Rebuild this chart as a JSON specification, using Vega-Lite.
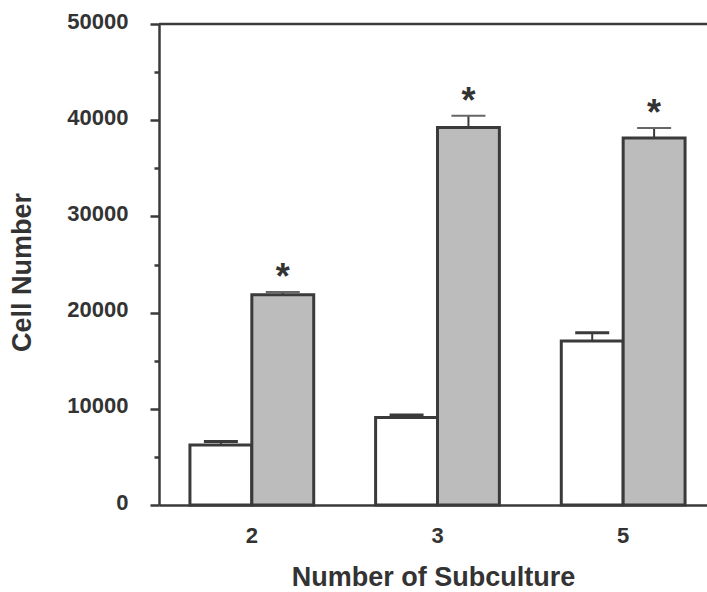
{
  "$schema": "https://vega.github.io/schema/vega-lite/v6.json",
  "autosize": "none",
  "padding": {"left": 159, "top": 24, "right": 0, "bottom": 87},
  "width": 548,
  "height": 481,
  "background": "white",
  "config": {
    "view": {"stroke": null},
    "font": "Liberation Sans",
    "axis": {
      "domainColor": "#3a3a3a",
      "domainWidth": 2.5,
      "tickColor": "#3a3a3a",
      "tickWidth": 2.5,
      "labelColor": "#333333",
      "titleColor": "#333333",
      "labelFont": "Liberation Sans",
      "titleFont": "Liberation Sans",
      "grid": false
    }
  },
  "data": {
    "values": [
      {"subculture": "2", "group": "control", "mean": 6250, "upper": 6600},
      {"subculture": "2", "group": "treated", "mean": 21850, "upper": 22150},
      {"subculture": "3", "group": "control", "mean": 9100, "upper": 9350},
      {"subculture": "3", "group": "treated", "mean": 39250, "upper": 40450},
      {"subculture": "5", "group": "control", "mean": 17050, "upper": 17900},
      {"subculture": "5", "group": "treated", "mean": 38150, "upper": 39200}
    ]
  },
  "resolve": {"axis": {"y": "independent"}},
  "layer": [
    {
      "mark": {"type": "bar", "stroke": "#3a3a3a", "strokeWidth": 3},
      "encoding": {
        "x": {
          "field": "subculture",
          "type": "nominal",
          "scale": {"range": [0, 557], "paddingInner": 0, "paddingOuter": 0},
          "axis": {
            "title": "Number of Subculture",
            "labelAngle": 0,
            "ticks": false,
            "labelFontSize": 22,
            "labelFontWeight": "bold",
            "labelBaseline": "alphabetic",
            "labelPadding": 37,
            "titleFontSize": 27,
            "titleFontWeight": "bold",
            "titleX": 274,
            "titleY": 80,
            "titleBaseline": "alphabetic",
            "titleAlign": "center"
          }
        },
        "xOffset": {
          "field": "group",
          "type": "nominal",
          "scale": {"domain": ["control", "treated"], "paddingInner": 0, "paddingOuter": 0.5}
        },
        "y": {
          "field": "mean",
          "type": "quantitative",
          "scale": {"domain": [0, 50000], "nice": false},
          "axis": {
            "title": "Cell Number",
            "orient": "left",
            "values": [0, 10000, 20000, 30000, 40000, 50000],
            "format": "d",
            "tickSize": 9,
            "labelPadding": 22,
            "labelFontSize": 22,
            "labelFontWeight": "bold",
            "labelBaseline": "middle",
            "labelOffset": -3,
            "titleFontSize": 27,
            "titleFontWeight": "bold",
            "titleAngle": -90,
            "titleX": -137,
            "titleY": 248,
            "titleAlign": "center",
            "titleBaseline": "middle"
          }
        },
        "fill": {
          "field": "group",
          "type": "nominal",
          "scale": {"domain": ["control", "treated"], "range": ["#ffffff", "#bcbcbc"]},
          "legend": null
        }
      }
    },
    {
      "mark": {"type": "rule", "stroke": "#3a3a3a", "strokeWidth": 2},
      "encoding": {
        "x": {"field": "subculture", "type": "nominal"},
        "xOffset": {"field": "group", "type": "nominal"},
        "y": {"field": "mean", "type": "quantitative", "axis": null},
        "y2": {"field": "upper"}
      }
    },
    {
      "transform": [{"filter": "datum.group === 'control'"}],
      "mark": {"type": "tick", "color": "#3a3a3a", "size": 34, "thickness": 3, "opacity": 1},
      "encoding": {
        "x": {"field": "subculture", "type": "nominal"},
        "xOffset": {"field": "group", "type": "nominal"},
        "y": {"field": "upper", "type": "quantitative", "axis": null}
      }
    },
    {
      "transform": [{"filter": "datum.group === 'treated'"}],
      "mark": {"type": "tick", "color": "#666666", "size": 34, "thickness": 2, "opacity": 1, "strokeDash": [2, 1]},
      "encoding": {
        "x": {"field": "subculture", "type": "nominal"},
        "xOffset": {"field": "group", "type": "nominal"},
        "y": {"field": "upper", "type": "quantitative", "axis": null}
      }
    },
    {
      "transform": [{"filter": "datum.group === 'treated'"}],
      "mark": {"type": "text", "text": "*", "fontSize": 36, "fontWeight": "bold", "color": "#333333", "baseline": "alphabetic", "align": "center", "dy": -3},
      "encoding": {
        "x": {"field": "subculture", "type": "nominal"},
        "xOffset": {"field": "group", "type": "nominal"},
        "y": {"field": "upper", "type": "quantitative", "axis": null}
      }
    },
    {
      "data": {"values": [{"frame": 50000}]},
      "mark": {"type": "rule", "stroke": "#3a3a3a", "strokeWidth": 2.5},
      "encoding": {
        "y": {
          "field": "frame",
          "type": "quantitative",
          "axis": {
            "orient": "left",
            "values": [5000, 15000, 25000, 35000, 45000],
            "tickSize": 5,
            "labels": false,
            "domain": false,
            "title": null
          }
        }
      }
    }
  ]
}
